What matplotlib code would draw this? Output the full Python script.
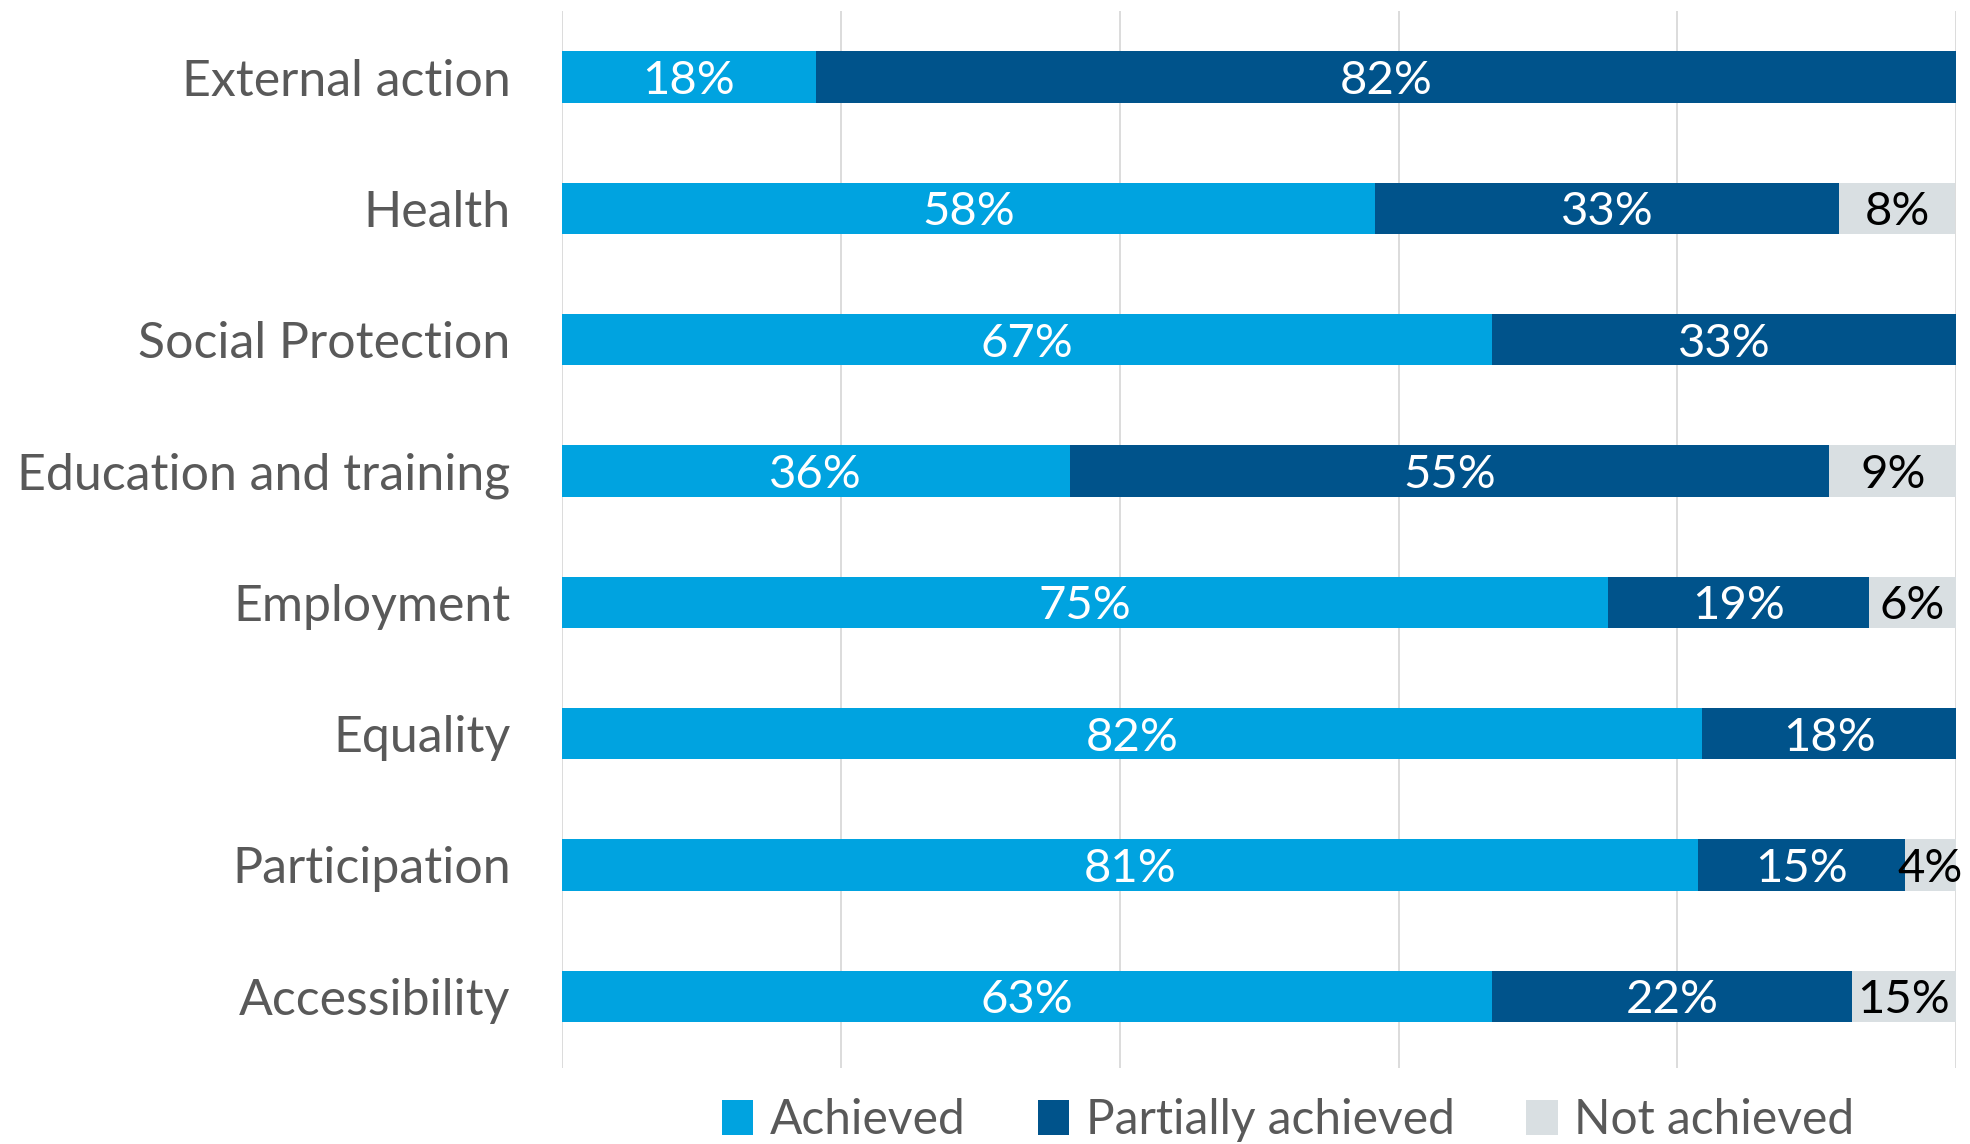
import matplotlib
matplotlib.use("Agg")
import matplotlib.pyplot as plt
import numpy as np

categories = ["External action", "Health", "Social Protection", "Education and training",
              "Employment", "Equality", "Participation", "Accessibility"]
achieved = [18.2, 58.3, 66.7, 36.4, 75.0, 81.8, 81.5, 66.7]
partially = [81.8, 33.3, 33.3, 54.5, 18.75, 18.2, 14.8, 25.8]
not_achieved = [0.0, 8.3, 0.0, 9.1, 6.25, 0.0, 3.7, 7.5]
achieved_labels = ["18%", "58%", "67%", "36%", "75%", "82%", "81%", "63%"]
partially_labels = ["82%", "33%", "33%", "55%", "19%", "18%", "15%", "22%"]
not_labels = ["", "8%", "", "9%", "6%", "", "4%", "15%"]
series_names = ["Achieved", "Partially achieved", "Not achieved"]
xticks = [0, 20, 40, 60, 80, 100]

colors = ["#00A3E0", "#00538B", "#D9DFE2"]
txt_colors = ["white", "white", "black"]
font = ["Lato", "DejaVu Sans"]

fig = plt.figure(figsize=(19.7, 11.44), dpi=100)
ax = fig.add_axes([0.2853, 0.066, 0.7077, 0.924])

y = np.arange(len(categories))
left = np.zeros(len(categories))
for vals, labs, c, tc, name in zip([achieved, partially, not_achieved],
                                   [achieved_labels, partially_labels, not_labels],
                                   colors, txt_colors, series_names):
    vals = np.array(vals)
    bars = ax.barh(y, vals, left=left, height=0.39, color=c, label=name, zorder=2)
    for b, lab in zip(bars, labs):
        if lab:
            ax.text(b.get_x() + b.get_width() / 2, b.get_y() + b.get_height() / 2, lab,
                    ha="center", va="center_baseline", color=tc, fontsize=34,
                    family=font, zorder=3)
    left = left + vals

ax.set_xlim(0, 100)
ax.set_ylim(7.55, -0.5)
ax.set_xticks(xticks)
ax.xaxis.grid(True, color="#D9D9D9", linewidth=1.3, zorder=0)
ax.tick_params(axis="x", bottom=False, labelbottom=False)
ax.tick_params(axis="y", length=0, pad=37)
ax.set_yticks(y)
ax.set_yticklabels(categories, fontsize=36, color="#595959", family=font)
for s in ax.spines.values():
    s.set_visible(False)

leg = fig.legend(loc="center", bbox_to_anchor=(0.654, 0.021), ncol=3, frameon=False,
                 prop={"family": font, "size": 34.5}, handlelength=0.65, handleheight=0.75,
                 handletextpad=0.35, columnspacing=1.5, labelcolor="#595959")

fig.savefig("out.png", dpi=100)
